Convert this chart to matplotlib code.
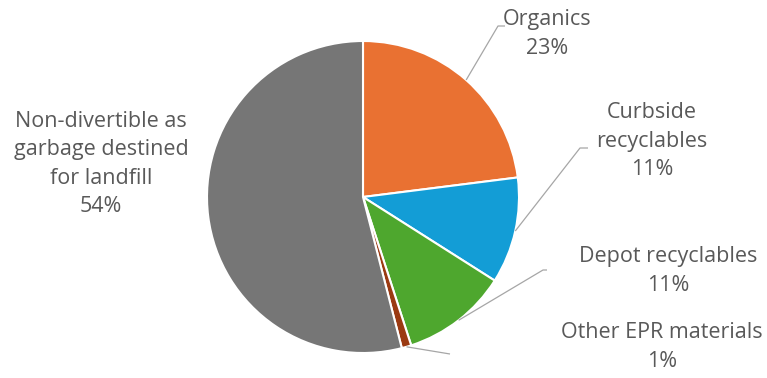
import matplotlib
matplotlib.use('Agg')
import matplotlib.pyplot as plt
import numpy as np

categories = ['Organics', 'Curbside\nrecyclables', 'Depot recyclables',
              'Other EPR materials', 'Non-divertible as\ngarbage destined\nfor landfill']
shares = [23, 11, 11, 1, 54]
colors = ['#E97132', '#139DD6', '#4EA72E', '#9B3A12', '#767676']

plt.rcParams['font.family'] = ['Open Sans', 'DejaVu Sans']

W, H = 767, 378
fig = plt.figure(figsize=(W / 100, H / 100), dpi=100)
ax = fig.add_axes([0, 0, 1, 1])

cx, cy, r = 363, H - 197, 156
wedges, _ = ax.pie(shares, colors=colors, startangle=90, counterclock=False,
                   center=(cx, cy), radius=r, frame=True,
                   wedgeprops=dict(edgecolor='white', linewidth=1.5))
ax.set_xlim(0, W)
ax.set_ylim(0, H)
ax.set_aspect('equal')
ax.axis('off')

# label block centre and leader elbow point, in pixels from top-left
label_pos = [(547, 34), (652, 141), (668, 271), (662, 347), (101, 164)]
elbows = [(498, 26, 505), (580, 148, 588), (543, 270, 547), (450, 354, 450), None]

txt_color = '#595959'
for w, name, val, (tx, ty), elb in zip(wedges, categories, shares, label_pos, elbows):
    ang = np.deg2rad((w.theta1 + w.theta2) / 2)
    text = name + '\n' + f'{val}%'
    ax.text(tx, H - ty, text, ha='center', va='center', fontsize=15.5,
            color=txt_color, linespacing=1.45)
    if elb is not None:
        x0, y0 = cx + r * np.cos(ang), cy + r * np.sin(ang)
        ex, ey, hx = elb
        ax.plot([x0, ex, hx], [y0, H - ey, H - ey], color='#A6A6A6', lw=0.9,
                solid_capstyle='butt')

fig.savefig('out.png', dpi=100)
